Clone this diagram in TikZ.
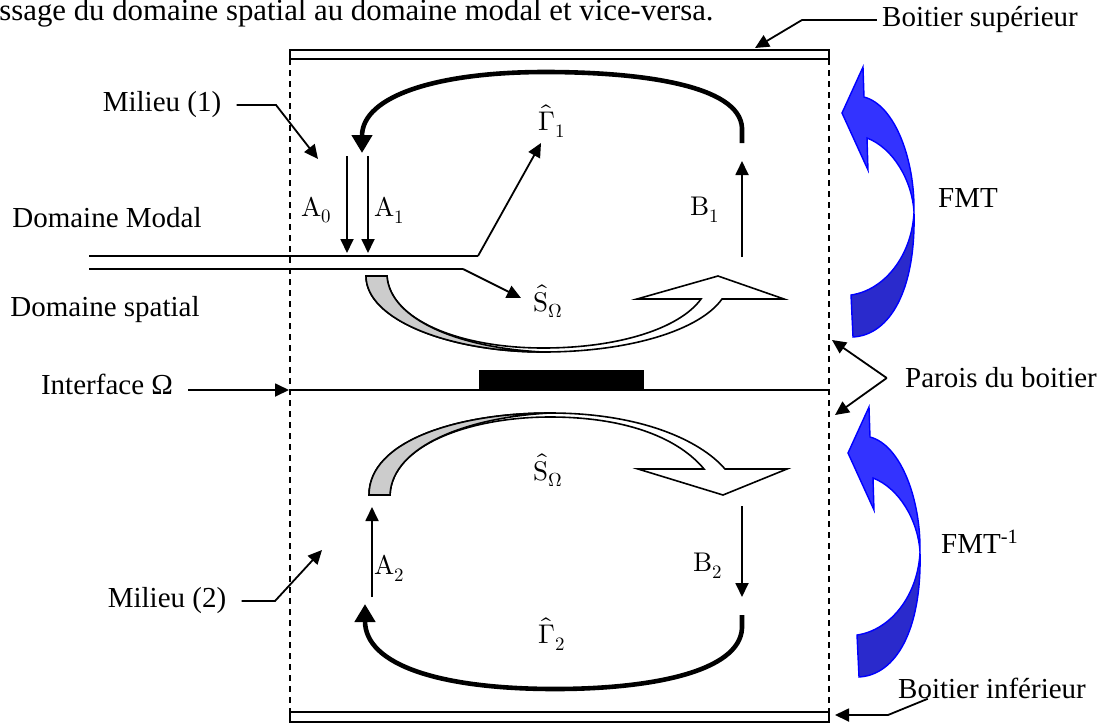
\documentclass[tikz,border=0pt]{standalone}
\usepackage{fontspec}
\usepackage{unicode-math}
\setmainfont{Liberation Serif}
\setmathfont{Latin Modern Math}
\usetikzlibrary{arrows.meta}
\definecolor{fmtlight}{RGB}{51,51,255}
\definecolor{fmtdark}{RGB}{42,42,204}
\definecolor{fmtedge}{RGB}{0,0,255}
\definecolor{twist}{RGB}{204,204,204}

\begin{document}
\begin{tikzpicture}[
    x=0.5pt, y=-0.5pt,
    txt/.style={inner sep=0pt, font=\fontsize{14.5}{17}\selectfont},
    sym/.style={inner sep=0pt, font=\fontsize{13.5}{16}\selectfont},
    lead/.style={line width=0.9pt, -{Triangle[length=7pt,width=6.5pt]}},
    flux/.style={line width=2.3pt, -{Triangle[length=9pt,width=10pt]}},
    wall/.style={line width=0.8pt, dash pattern=on 3pt off 2.5pt},
    lid/.style={draw, line width=0.9pt, fill=white},
    ribbon/.style={draw, line width=0.8pt, line join=miter},
    fmtarrow/.style={draw=fmtedge, line width=0.7pt}
]
\useasboundingbox (0,0) rectangle (1109,724);

% boitier
\draw[lid] (290,50) rectangle (829,59);
\draw[lid] (290,712) rectangle (829,722);
\draw[wall] (290,59) -- (290,712);
\draw[wall] (829,59) -- (829,712);
\draw[line width=0.8pt] (290,390) -- (829,390);
\fill (479,370) rectangle (644,390);

% textes
\node[txt, anchor=base west, font=\fontsize{15.4}{18}\selectfont] (titre) at (-1,20) {ssage du domaine spatial au domaine modal et vice-versa.};
\node[txt] (sup) at (980,20) {Boitier supérieur};
\node[txt] (inf) at (992,688) {Boitier inférieur};
\node[txt] (mil1) at (162,105) {Milieu (1)};
\node[txt] (mil2) at (167,601) {Milieu (2)};
\node[txt] (modal) at (107,218) {Domaine Modal};
\node[txt] (spatial) at (105,310) {Domaine spatial};
\node[txt] (interf) at (107,384) {Interface Ω};
\node[txt] (parois) at (1001,378) {Parois du boitier};
\node[txt] (fmt) at (968,198) {FMT};
\node[txt] (fmtinv) at (980,542) {FMT\textsuperscript{-1}};

\node[sym] (a0) at (317,210) {$\symup{A}_0$};
\node[sym] (a1) at (390,210) {$\symup{A}_1$};
\node[sym] (b1) at (705,210) {$\symup{B}_1$};
\node[sym] (g1) at (552,121) {$\hat{\Gamma}_1$};
\node[sym] (s1) at (548,301) {$\hat{\symup{S}}_{\Omega}$};
\node[sym] (s2) at (548,470) {$\hat{\symup{S}}_{\Omega}$};
\node[sym] (a2) at (390,568) {$\symup{A}_2$};
\node[sym] (b2) at (708,566) {$\symup{B}_2$};
\node[sym] (g2) at (552,634) {$\hat{\Gamma}_2$};

% points
\coordinate (m1knee) at (276,105);  \coordinate (m1tip) at (318,159);
\coordinate (m2knee) at (275,601);  \coordinate (m2tip) at (322,550);
\coordinate (suptip) at (755,48);   \coordinate (supknee) at (802,20);
\coordinate (inftip) at (835,715);  \coordinate (infknee) at (888,715);
\coordinate (iftip) at (289,390);
\coordinate (p1tip) at (832,340);   \coordinate (p2tip) at (835,415);
\coordinate (a0top) at (347,156);   \coordinate (a0bot) at (347,253);
\coordinate (a1top) at (368,156);   \coordinate (a1bot) at (368,253);
\coordinate (b1bot) at (742,257);   \coordinate (b1top) at (742,161);
\coordinate (a2bot) at (372,597);   \coordinate (a2top) at (372,507);
\coordinate (b2top) at (742,506);   \coordinate (b2bot) at (742,597);
\coordinate (modL) at (89,256);     \coordinate (modR) at (478,256);
\coordinate (spaL) at (89,269);     \coordinate (spaR) at (463,269);
\coordinate (g1tip) at (541,143);   \coordinate (s1tip) at (521,298);

% renvois
\draw[lead] ([xshift=7.5pt]mil1.east) -- (m1knee) -- (m1tip);
\draw[lead] ([xshift=7.5pt]mil2.east) -- (m2knee) -- (m2tip);
\draw[lead] ([xshift=-2.5pt]sup.west) -- (supknee) -- (suptip);
\draw[lead] ([xshift=15pt]inf.south west) -- (infknee) -- (inftip);
\draw[lead] ([shift={(7.5pt,-3pt)}]interf.east) -- (iftip);
\draw[lead] ([xshift=-9pt]parois.west) -- (p1tip);
\draw[lead] ([xshift=-9pt]parois.west) -- (p2tip);

% domaines
\draw[line width=0.8pt] (modL) -- (modR);
\draw[lead] (modR) -- (g1tip);
\draw[line width=0.8pt] (spaL) -- (spaR);
\draw[lead] (spaR) -- (s1tip);

% ondes
\draw[lead] (a0top) -- (a0bot);
\draw[lead] (a1top) -- (a1bot);
\draw[lead] (b1bot) -- (b1top);
\draw[lead] (a2bot) -- (a2top);
\draw[lead] (b2top) -- (b2bot);

% boucles
\draw[flux] (742,143) -- (742,128) .. controls (740,85) and (640,72) .. (545,72)
    .. controls (440,72) and (362,95) .. (362,153);
\draw[flux] (742,615) -- (742,628) .. controls (740,672) and (650,689) .. (555,689)
    .. controls (440,689) and (365,665) .. (365,604);

% fleches courbes
\filldraw[ribbon, fill=white] (366,276) .. controls (366,320) and (450,352) .. (543,352)
    .. controls (630,352) and (700,330) .. (722,299) -- (784,299) -- (718,276) -- (637,299) -- (701,299)
    .. controls (680,328) and (620,348) .. (543,348) .. controls (460,348) and (390,320) .. (387,276) -- cycle;
\filldraw[ribbon, fill=twist] (366,276) .. controls (366,320) and (450,352) .. (543,352)
    .. controls (460,348) and (390,320) .. (387,276) -- cycle;

\filldraw[ribbon, fill=white] (369,495) .. controls (369,440) and (460,413) .. (550,413)
    .. controls (640,413) and (700,440) .. (725,469) -- (787,469) -- (723,495) -- (638,469) -- (704,469)
    .. controls (680,440) and (630,417) .. (550,417) .. controls (470,417) and (392,445) .. (390,495) -- cycle;
\filldraw[ribbon, fill=twist] (369,495) .. controls (369,440) and (460,413) .. (550,413)
    .. controls (470,417) and (392,445) .. (390,495) -- cycle;

% FMT
\foreach \dx/\dy in {0/0, 6/340} {
  \begin{scope}[shift={(\dx,\dy)}]
    \filldraw[fmtarrow, fill=fmtdark] (914,212) .. controls (916,290) and (890,335) .. (853,337)
        -- (851,295) .. controls (885,290) and (912,255) .. (914,212);
    \filldraw[fmtarrow, fill=fmtlight] (863,67) -- (864,97) .. controls (895,105) and (915,160) .. (914,212)
        .. controls (912,180) and (893,148) .. (867,138) -- (868,170) -- (842,113) -- cycle;
  \end{scope}
}
\end{tikzpicture}
\end{document}
